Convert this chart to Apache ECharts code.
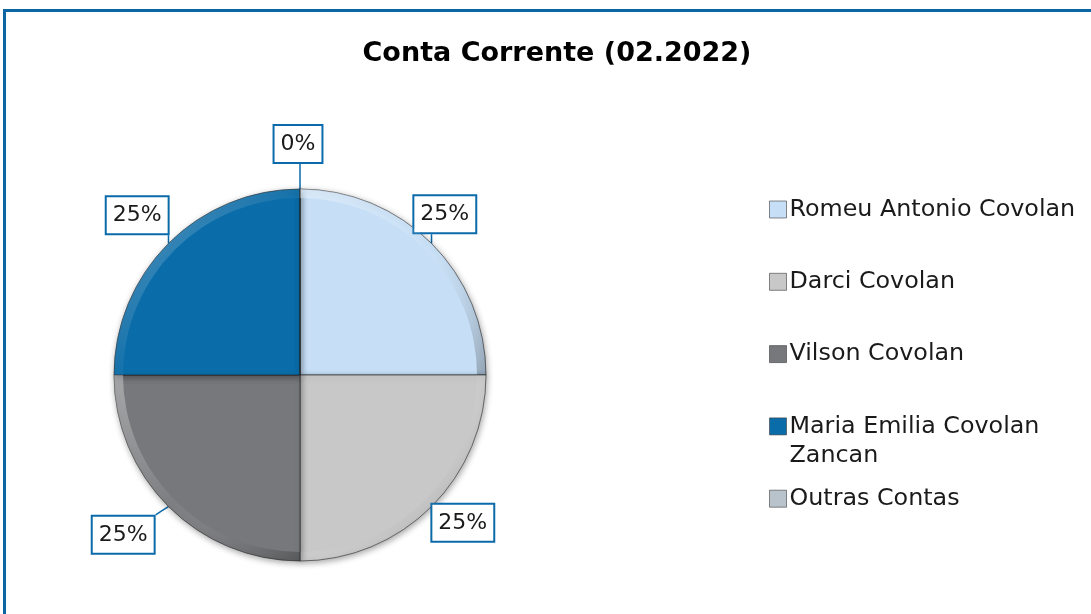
<!DOCTYPE html>
<html>
<head>
<meta charset="utf-8">
<script src="https://cdn.jsdelivr.net/npm/echarts@6/dist/echarts.min.js"></script>
<style>
html,body{margin:0;padding:0;background:#fff;}
#chart{width:1091px;height:614px;}
</style>
</head>
<body>
<div id="chart"></div>
<script>
const titleText = 'Conta Corrente (02.2022)';
const categories = ['Romeu Antonio Covolan', 'Darci Covolan', 'Vilson Covolan', 'Maria Emilia Covolan Zancan', 'Outras Contas'];
const shares = [25, 25, 25, 25, 0];
const colors = ['#C6DFF6', '#C8C8C8', '#77787B', '#0A6CA8', '#B9C3CC'];
const legendLabels = ['Romeu Antonio Covolan', 'Darci Covolan', 'Vilson Covolan', 'Maria Emilia Covolan\nZancan', 'Outras Contas'];
// small manual nudges of the callout boxes (style only)
const labelNudges = [[-15, -1], [3, -12], [-17, 0], [-3, 0], [-2, -5]];

const FONT = 'DejaVu Sans';
const chart = echarts.init(document.getElementById('chart'));

const legends = categories.map((name, i) => {
  const multi = legendLabels[i].includes('\n');
  return {
    orient: 'vertical',
    left: 769,
    padding: 0,
    top: 195 + i * 72.3 - (multi ? 29 : 0),
    itemWidth: 17,
    itemHeight: 17,
    itemGap: 0,
    icon: 'rect',
    data: [name],
    itemStyle: { borderColor: 'rgba(60,60,60,0.6)', borderWidth: 1 },
    formatter: () => (multi ? ' \n' : '') + legendLabels[i],
    textStyle: {
      fontFamily: FONT,
      fontSize: 23.8,
      color: '#1a1a1a',
      lineHeight: 29,
      padding: [0, 0, 0, -2]
    }
  };
});

const LABEL_OFFSET = 40;
const PIE_CENTER = [300, 375];
const PIE_R = 186;

chart.setOption({
  backgroundColor: '#ffffff',
  animation: false,
  title: {
    text: titleText,
    left: 552,
    textAlign: 'center',
    top: 35,
    textStyle: { fontFamily: FONT, fontSize: 27, fontWeight: 'bold', color: '#000' }
  },
  color: colors,
  legend: legends,
  graphic: [{
    type: 'rect',
    shape: { x: 4.5, y: 10.5, width: 1300, height: 900 },
    style: { fill: 'none', stroke: '#0B66A3', lineWidth: 3 },
    silent: true
  }],
  series: [{
    type: 'pie',
    center: PIE_CENTER,
    radius: PIE_R,
    startAngle: 90,
    clockwise: true,
    avoidLabelOverlap: false,
    data: categories.map((name, i) => ({ name, value: shares[i] })),
    itemStyle: {
      borderColor: 'rgba(30,30,30,0.6)',
      borderWidth: 1,
      shadowBlur: 6,
      shadowColor: 'rgba(0,0,0,0.35)',
      shadowOffsetX: 1,
      shadowOffsetY: 2
    },
    label: {
      show: true,
      position: 'outside',
      formatter: p => Math.round(p.percent) + '%',
      fontFamily: FONT,
      fontSize: 22,
      color: '#1a1a1a',
      backgroundColor: '#ffffff',
      borderColor: '#0B6AAA',
      borderWidth: 2,
      padding: [8, 6, 6, 6]
    },
    labelLine: {
      show: true,
      length: 12,
      length2: 2,
      lineStyle: { color: '#0B6AAA', width: 1.5 }
    },
    labelLayout: function (params) {
      const pts = params.labelLinePoints;
      if (!pts) return {};
      const p0 = pts[0], p1 = pts[1];
      let dx = p1[0] - p0[0], dy = p1[1] - p0[1];
      const len = Math.sqrt(dx * dx + dy * dy) || 1;
      dx /= len; dy /= len;
      const nudge = labelNudges[params.dataIndex] || [0, 0];
      const cx = p0[0] + dx * LABEL_OFFSET + nudge[0];
      const cy = p0[1] + dy * LABEL_OFFSET + nudge[1];
      const hw = params.labelRect.width / 2, hh = params.labelRect.height / 2;
      const ex = Math.min(Math.max(p0[0], cx - hw), cx + hw);
      const ey = Math.min(Math.max(p0[1], cy - hh), cy + hh);
      return {
        x: cx,
        y: cy,
        align: 'center',
        verticalAlign: 'middle',
        labelLinePoints: [p0, [(p0[0] + ex) / 2, (p0[1] + ey) / 2], [ex, ey]]
      };
    }
  }, {
    type: 'pie',
    center: PIE_CENTER,
    radius: [PIE_R - 9, PIE_R],
    startAngle: 90,
    clockwise: true,
    silent: true,
    z: 3,
    label: { show: false },
    labelLine: { show: false },
    data: categories.map((name, i) => ({ name, value: shares[i] })),
    itemStyle: {
      color: {
        type: 'linear', x: 0, y: 0, x2: 1, y2: 1,
        colorStops: [
          { offset: 0, color: 'rgba(255,255,255,0.35)' },
          { offset: 0.5, color: 'rgba(255,255,255,0.05)' },
          { offset: 1, color: 'rgba(0,0,0,0.25)' }
        ]
      },
      borderWidth: 0
    }
  }]
});
</script>
</body>
</html>
